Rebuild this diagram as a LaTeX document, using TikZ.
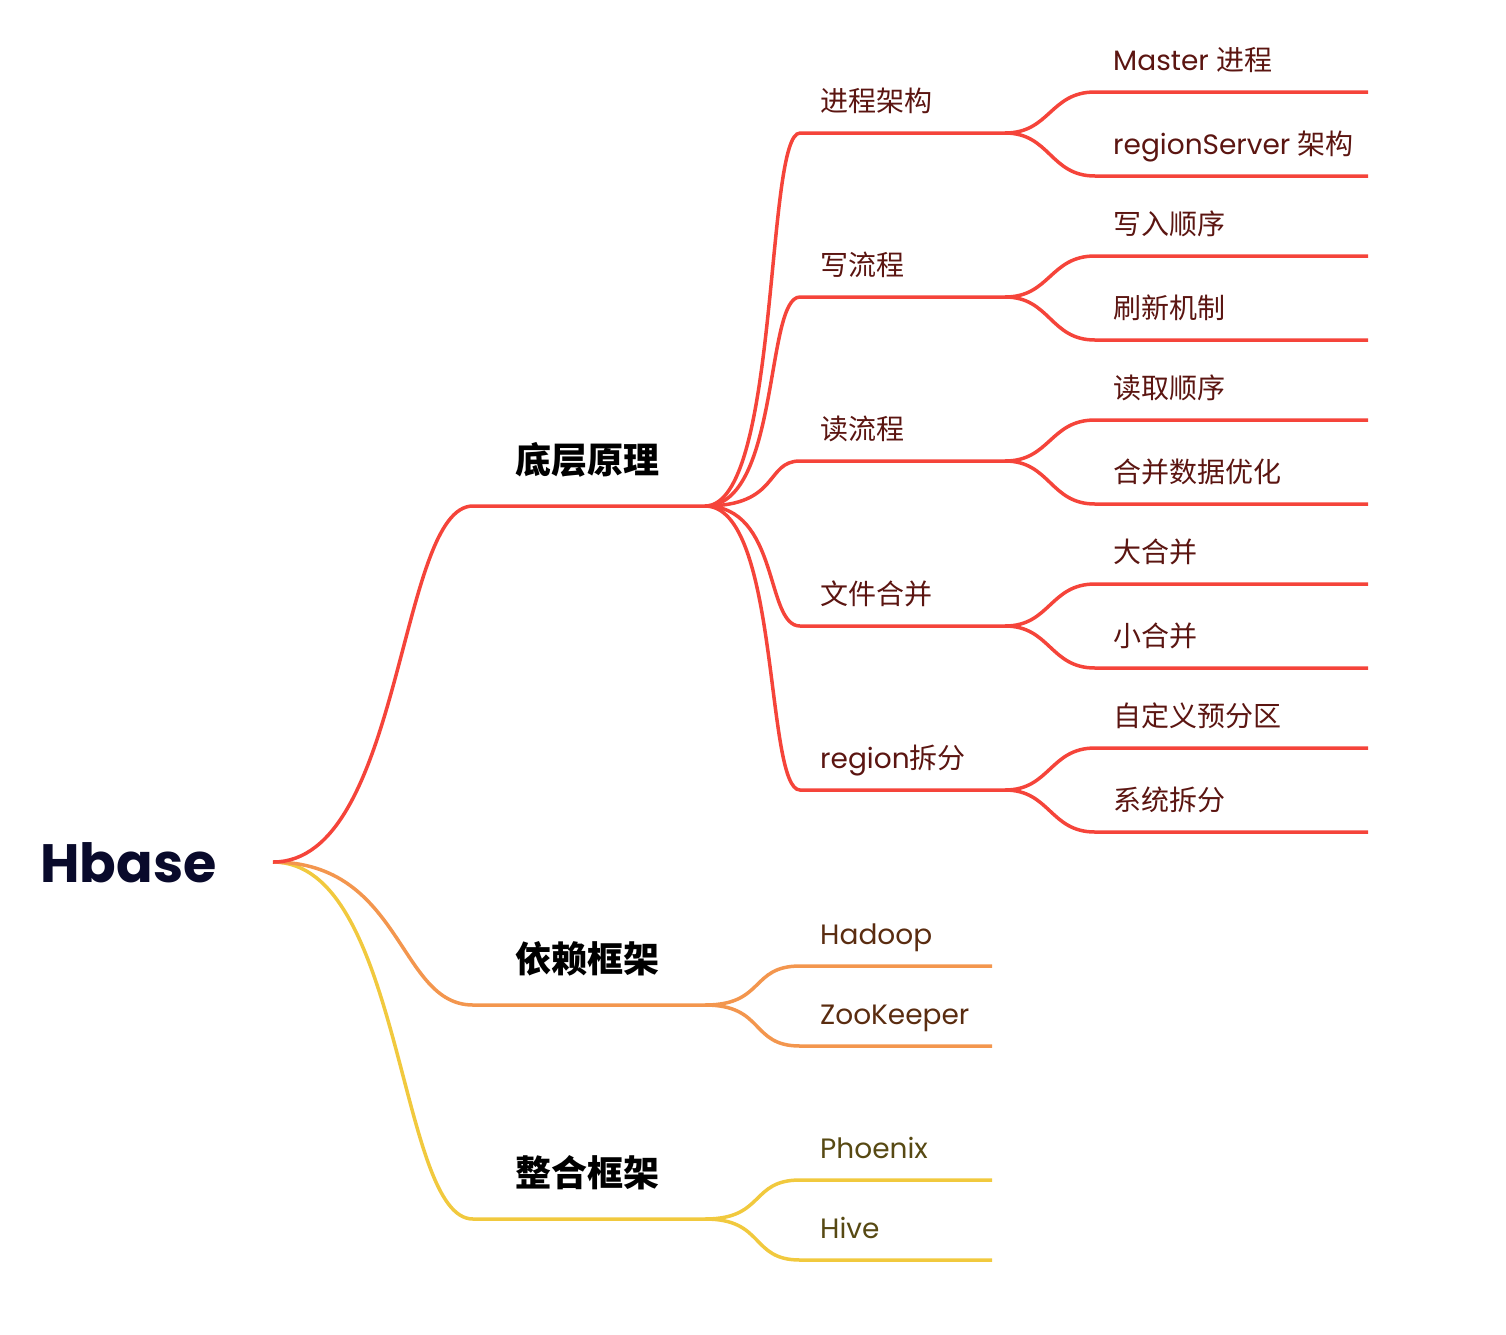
\documentclass[tikz,border=0pt]{standalone}
\usepackage{fontspec}
\setmainfont{Poppins}
\newfontfamily\cjkfont{Noto Sans CJK SC}

\definecolor{lineRed}{HTML}{F5443A}
\definecolor{lineOrange}{HTML}{F3964E}
\definecolor{lineYellow}{HTML}{F1C93E}
\definecolor{inkRed}{HTML}{5B1511}
\definecolor{inkOrange}{HTML}{5A2C10}
\definecolor{inkYellow}{HTML}{574913}
\definecolor{inkRoot}{HTML}{090A2B}

\tikzset{
  link/.style={line width=3.5pt},
  rline/.style={link, draw=lineRed},
  oline/.style={link, draw=lineOrange},
  yline/.style={link, draw=lineYellow},
  root/.style={anchor=base west, inner sep=0pt, text=inkRoot,
    font=\fontsize{54}{60}\selectfont\bfseries},
  topic/.style={anchor=base, inner sep=0pt, text=black,
    font=\fontsize{36}{40}\selectfont\cjkfont\bfseries},
  sub/.style={anchor=base west, inner sep=0pt,
    font=\fontsize{28}{32}\selectfont}
}

\begin{document}
\begin{tikzpicture}[x=1pt, y=-1pt]
    \useasboundingbox (0,0) rectangle (1506,1334);

    % Root and the three main branches
    \coordinate (hub) at (273,862);
    \node[root] (hbase) at (40,882) {Hbase};

    \coordinate (dc-a) at (473,506);
    \coordinate (dc-b) at (705,506);
    \coordinate (yl-a) at (473,1005);
    \coordinate (yl-b) at (705,1005);
    \coordinate (zh-a) at (473,1219);
    \coordinate (zh-b) at (705,1219);

    \draw[yline] (hub) .. controls +(130,0) and +(-75,0) .. (zh-a) -- (zh-b);
    \draw[oline] (hub) .. controls +(130,0) and +(-75,0) .. (yl-a) -- (yl-b);
    \draw[rline] (hub) .. controls +(130,0) and +(-75,0) .. (dc-a) -- (dc-b);

    \node[topic] (dc) at (587,473) {底层原理};
    \node[topic] (yl) at (587,972) {依赖框架};
    \node[topic] (zh) at (587,1186) {整合框架};

    % Second level under the red branch
    \coordinate (jc-a) at (800,133);
    \coordinate (jc-b) at (1005,133);
    \coordinate (xl-a) at (800,297);
    \coordinate (xl-b) at (1005,297);
    \coordinate (dl-a) at (800,461);
    \coordinate (dl-b) at (1005,461);
    \coordinate (wj-a) at (800,626);
    \coordinate (wj-b) at (1005,626);
    \coordinate (rg-a) at (800,790);
    \coordinate (rg-b) at (1005,790);

    \draw[rline] (dc-b) .. controls +(75,0) and +(-35,0) .. (jc-a) -- (jc-b);
    \draw[rline] (dc-b) .. controls +(75,0) and +(-35,0) .. (xl-a) -- (xl-b);
    \draw[rline] (dc-b) .. controls +(75,0) and +(-35,0) .. (dl-a) -- (dl-b);
    \draw[rline] (dc-b) .. controls +(75,0) and +(-35,0) .. (wj-a) -- (wj-b);
    \draw[rline] (dc-b) .. controls +(75,0) and +(-35,0) .. (rg-a) -- (rg-b);

    \node[sub, text=inkRed] (jc) at (820,111) {\cjkfont 进程架构};
    \node[sub, text=inkRed] (xl) at (820,275) {\cjkfont 写流程};
    \node[sub, text=inkRed] (dl) at (820,439) {\cjkfont 读流程};
    \node[sub, text=inkRed] (wj) at (820,604) {\cjkfont 文件合并};
    \node[sub, text=inkRed] (rg) at (820,768) {region{\cjkfont 拆分}};

    % Third level leaves
    \coordinate (ms-a) at (1095,92);
    \coordinate (ms-b) at (1368,92);
    \coordinate (rs-a) at (1095,176);
    \coordinate (rs-b) at (1368,176);
    \coordinate (xr-a) at (1095,256);
    \coordinate (xr-b) at (1368,256);
    \coordinate (sx-a) at (1095,340);
    \coordinate (sx-b) at (1368,340);
    \coordinate (dq-a) at (1095,420);
    \coordinate (dq-b) at (1368,420);
    \coordinate (hy-a) at (1095,504);
    \coordinate (hy-b) at (1368,504);
    \coordinate (dh-a) at (1095,584);
    \coordinate (dh-b) at (1368,584);
    \coordinate (xh-a) at (1095,668);
    \coordinate (xh-b) at (1368,668);
    \coordinate (zd-a) at (1095,748);
    \coordinate (zd-b) at (1368,748);
    \coordinate (xt-a) at (1095,832);
    \coordinate (xt-b) at (1368,832);

    \draw[rline] (jc-b) .. controls +(45,0) and +(-45,0) .. (ms-a) -- (ms-b);
    \draw[rline] (jc-b) .. controls +(45,0) and +(-45,0) .. (rs-a) -- (rs-b);
    \draw[rline] (xl-b) .. controls +(45,0) and +(-45,0) .. (xr-a) -- (xr-b);
    \draw[rline] (xl-b) .. controls +(45,0) and +(-45,0) .. (sx-a) -- (sx-b);
    \draw[rline] (dl-b) .. controls +(45,0) and +(-45,0) .. (dq-a) -- (dq-b);
    \draw[rline] (dl-b) .. controls +(45,0) and +(-45,0) .. (hy-a) -- (hy-b);
    \draw[rline] (wj-b) .. controls +(45,0) and +(-45,0) .. (dh-a) -- (dh-b);
    \draw[rline] (wj-b) .. controls +(45,0) and +(-45,0) .. (xh-a) -- (xh-b);
    \draw[rline] (rg-b) .. controls +(45,0) and +(-45,0) .. (zd-a) -- (zd-b);
    \draw[rline] (rg-b) .. controls +(45,0) and +(-45,0) .. (xt-a) -- (xt-b);

    \node[sub, text=inkRed] (ms) at (1113,70) {Master {\cjkfont 进程}};
    \node[sub, text=inkRed] (rs) at (1113,154) {regionServer {\cjkfont 架构}};
    \node[sub, text=inkRed] (xr) at (1113,234) {\cjkfont 写入顺序};
    \node[sub, text=inkRed] (sx) at (1113,318) {\cjkfont 刷新机制};
    \node[sub, text=inkRed] (dq) at (1113,398) {\cjkfont 读取顺序};
    \node[sub, text=inkRed] (hy) at (1113,482) {\cjkfont 合并数据优化};
    \node[sub, text=inkRed] (dh) at (1113,562) {\cjkfont 大合并};
    \node[sub, text=inkRed] (xh) at (1113,646) {\cjkfont 小合并};
    \node[sub, text=inkRed] (zd) at (1113,726) {\cjkfont 自定义预分区};
    \node[sub, text=inkRed] (xt) at (1113,810) {\cjkfont 系统拆分};

    % Orange branch leaves
    \coordinate (hd-a) at (800,966);
    \coordinate (hd-b) at (992,966);
    \coordinate (zk-a) at (800,1046);
    \coordinate (zk-b) at (992,1046);

    \draw[oline] (yl-b) .. controls +(60,0) and +(-50,0) .. (hd-a) -- (hd-b);
    \draw[oline] (yl-b) .. controls +(60,0) and +(-50,0) .. (zk-a) -- (zk-b);

    \node[sub, text=inkOrange] (hd) at (820,944) {Hadoop};
    \node[sub, text=inkOrange] (zk) at (820,1024) {ZooKeeper};

    % Yellow branch leaves
    \coordinate (px-a) at (800,1180);
    \coordinate (px-b) at (992,1180);
    \coordinate (hv-a) at (800,1260);
    \coordinate (hv-b) at (992,1260);

    \draw[yline] (zh-b) .. controls +(60,0) and +(-50,0) .. (px-a) -- (px-b);
    \draw[yline] (zh-b) .. controls +(60,0) and +(-50,0) .. (hv-a) -- (hv-b);

    \node[sub, text=inkYellow] (px) at (820,1158) {Phoenix};
    \node[sub, text=inkYellow] (hv) at (820,1238) {Hive};
\end{tikzpicture}
\end{document}
